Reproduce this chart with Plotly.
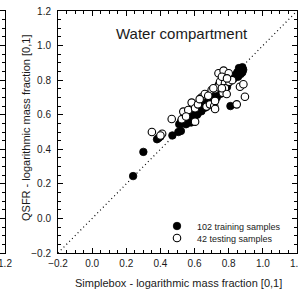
import plotly.graph_objects as go

W, H = 298, 291

# ---- data ----
train_x = [0.24, 0.30, 0.38, 0.39, 0.40, 0.47, 0.505, 0.52,
           0.53, 0.545, 0.51, 0.52, 0.53, 0.535, 0.54, 0.55, 0.555, 0.56, 0.565, 0.57, 0.575, 0.58, 0.585, 0.59, 0.595, 0.60, 0.55, 0.58,
           0.605, 0.61, 0.615, 0.62, 0.625, 0.63, 0.635, 0.64, 0.645, 0.65, 0.655, 0.66, 0.665, 0.67, 0.675, 0.68, 0.685, 0.69, 0.695, 0.70, 0.62, 0.64, 0.66,
           0.705, 0.71, 0.715, 0.72, 0.725, 0.73, 0.735, 0.74, 0.745, 0.75, 0.755, 0.76, 0.765, 0.77, 0.775, 0.78, 0.785, 0.79, 0.795, 0.80, 0.81, 0.70, 0.73, 0.75, 0.77, 0.79,
           0.84, 0.85, 0.855, 0.86, 0.865, 0.87, 0.875, 0.88, 0.885, 0.87, 0.86, 0.88, 0.83, 0.82,
           0.56, 0.57, 0.59, 0.60, 0.63, 0.67, 0.69, 0.72, 0.74, 0.76, 0.78]
train_y = [0.245, 0.385, 0.458, 0.466, 0.474, 0.48, 0.50, 0.506,
           0.575, 0.565, 0.545, 0.56, 0.55, 0.57, 0.56, 0.565, 0.58, 0.57, 0.555, 0.585, 0.57, 0.59, 0.575, 0.60, 0.585, 0.61, 0.545, 0.555,
           0.62, 0.635, 0.60, 0.625, 0.645, 0.675, 0.655, 0.68, 0.64, 0.685, 0.665, 0.69, 0.675, 0.68, 0.695, 0.70, 0.685, 0.705, 0.69, 0.71, 0.61, 0.62, 0.64,
           0.72, 0.70, 0.73, 0.715, 0.74, 0.725, 0.75, 0.735, 0.76, 0.745, 0.77, 0.74, 0.765, 0.775, 0.76, 0.785, 0.77, 0.795, 0.78, 0.80, 0.65, 0.69, 0.70, 0.72, 0.74, 0.76,
           0.83, 0.845, 0.82, 0.84, 0.855, 0.865, 0.85, 0.875, 0.86, 0.835, 0.87, 0.845, 0.81, 0.82,
           0.59, 0.60, 0.575, 0.595, 0.66, 0.70, 0.72, 0.75, 0.77, 0.79, 0.80]

test_x = [0.35, 0.41, 0.40, 0.466, 0.525, 0.534, 0.563, 0.583, 0.603, 0.603, 0.62, 0.64, 0.66, 0.67,
          0.69, 0.70, 0.715, 0.72, 0.72, 0.72, 0.739, 0.749, 0.765, 0.778, 0.778, 0.788, 0.803, 0.74,
          0.77, 0.80, 0.76, 0.866, 0.886, 0.847, 0.895, 0.71, 0.76, 0.68, 0.63, 0.55, 0.82, 0.79]
test_y = [0.50, 0.49, 0.48, 0.575, 0.574, 0.618, 0.627, 0.670, 0.637, 0.56, 0.66, 0.70, 0.72, 0.647,
          0.66, 0.743, 0.65, 0.68, 0.747, 0.633, 0.759, 0.791, 0.727, 0.782, 0.753, 0.72, 0.791, 0.84,
          0.855, 0.84, 0.82, 0.762, 0.776, 0.66, 0.704, 0.753, 0.753, 0.71, 0.69, 0.59, 0.80, 0.81]

identity = [-0.2, 1.2]
train_label = "102 training samples"
test_label = "42 testing samples"
title_text = "Water compartment"
x_title = "Simplebox - logarithmic mass fraction [0,1]"
y_title = "QSFR - logarithmic mass fraction [0,1]"

FONT = "Liberation Sans, Arial, sans-serif"
INK = "#1a1a1a"

fig = go.Figure()
fig.add_trace(go.Scatter(x=identity, y=identity, mode="lines",
                         line=dict(color="black", width=1.2, dash="1px,3px"),
                         showlegend=False, hoverinfo="skip"))
fig.add_trace(go.Scatter(x=train_x, y=train_y, mode="markers", name=train_label,
                         marker=dict(symbol="circle", size=7.5, color="black",
                                     line=dict(color="black", width=0.8)),
                         legend="legend"))
fig.add_trace(go.Scatter(x=test_x, y=test_y, mode="markers", name=test_label,
                         marker=dict(symbol="circle", size=7.5, color="white",
                                     line=dict(color="black", width=1.1)),
                         legend="legend2"))
# fragment of the neighbouring panel at the left edge
fig.add_trace(go.Scatter(x=[], y=[], xaxis="x2", yaxis="y2", showlegend=False))

minor = dict(ticks="inside", ticklen=3, dtick=0.05, tick0=0, tickcolor="black", tickwidth=1)
ax_common = dict(showline=True, linecolor="black", linewidth=1, mirror="ticks",
                 ticks="inside", ticklen=5, tickcolor="black", tickwidth=1,
                 minor=minor, automargin=False,
                 showgrid=False, zeroline=False, range=[-0.2, 1.2], dtick=0.2,
                 tickformat=".1f", tickfont=dict(family=FONT, size=10, color=INK),
                 ticklabeloverflow="allow")

x0, x1 = 58 / W, 297 / W
y0, y1 = (H - 253) / H, (H - 11) / H

fig.update_layout(
    width=W, height=H, margin=dict(l=0, r=0, t=0, b=0, autoexpand=False),
    paper_bgcolor="white", plot_bgcolor="white",
    font=dict(family=FONT, color=INK),
    xaxis=dict(domain=[x0, x1], anchor="y", ticklabelstandoff=1, **ax_common),
    yaxis=dict(domain=[y0, y1], anchor="x", ticklabelstandoff=4, **ax_common),
    xaxis2=dict(domain=[0, 5 / W], anchor="y2", range=[1.17, 1.2], tickvals=[1.2], ticktext=["1.2"],
                showline=True, linecolor="black", mirror=True, ticks="inside", ticklen=5,
                showgrid=False, zeroline=False, ticklabeloverflow="allow", ticklabelstandoff=1,
                automargin=False, tickfont=dict(family=FONT, size=10, color=INK)),
    yaxis2=dict(domain=[y0, y1], anchor="x2", side="right", range=[-0.2, 1.2], dtick=0.2,
                showline=True, linecolor="black", ticks="inside", ticklen=5, tickcolor="black",
                minor=minor, showticklabels=False, showgrid=False, zeroline=False,
                automargin=False),
    legend=dict(x=157 / W, y=(H - 226) / H, xanchor="left", yanchor="middle",
                bgcolor="rgba(0,0,0,0)", borderwidth=0,
                font=dict(family=FONT, size=9, color=INK)),
    legend2=dict(x=157 / W, y=(H - 238) / H, xanchor="left", yanchor="middle",
                 bgcolor="rgba(0,0,0,0)", borderwidth=0,
                 font=dict(family=FONT, size=9, color=INK)),
    annotations=[
        dict(text=title_text, xref="paper", yref="paper", x=182 / W, y=(H - 33) / H,
             xanchor="center", yanchor="middle", showarrow=False,
             font=dict(family=FONT, size=15, color=INK)),
        dict(text=x_title, xref="paper", yref="paper", x=178 / W, y=(H - 283) / H,
             xanchor="center", yanchor="middle", showarrow=False,
             font=dict(family=FONT, size=11, color=INK)),
        dict(text=y_title, xref="paper", yref="paper", x=26 / W, y=(H - 128) / H,
             xanchor="center", yanchor="middle", showarrow=False, textangle=-90,
             font=dict(family=FONT, size=11, color=INK)),
    ],
)

fig.write_html("out.html", config={"displayModeBar": False},
               post_script="document.body.style.margin='0px';")
